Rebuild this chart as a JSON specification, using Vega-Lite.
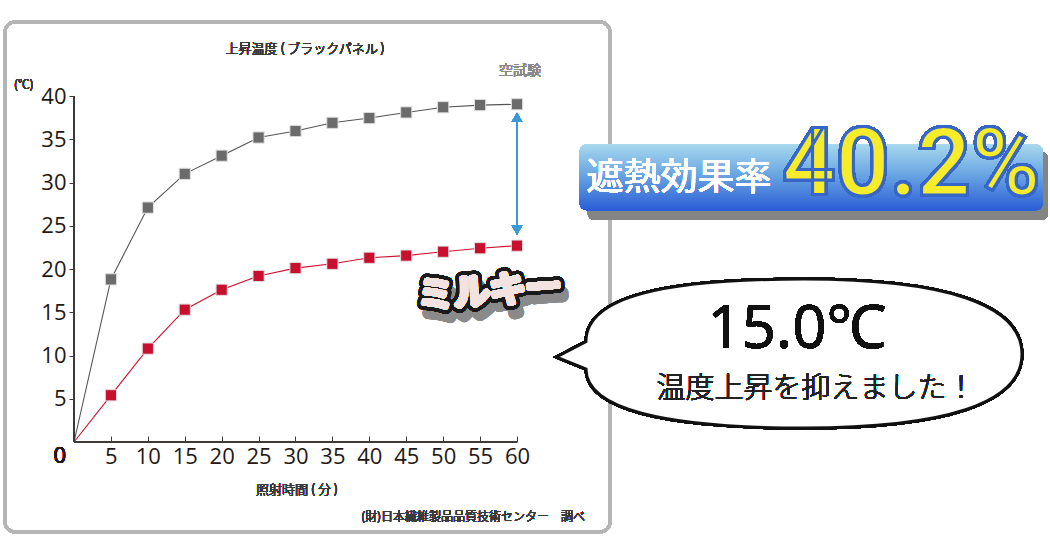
{
  "$schema": "https://vega.github.io/schema/vega-lite/v6.json",
  "description": "上昇温度 (ブラックパネル) - 空試験 vs ミルキー",
  "width": 976,
  "height": 444,
  "autosize": {"type": "none"},
  "padding": {"left": 74, "top": 96, "right": 0, "bottom": 0},
  "background": "white",
  "data": {
    "values": [
      {"t": 0, "v": 0, "s": "空試験"},
      {"t": 5, "v": 18.8, "s": "空試験"},
      {"t": 10, "v": 27.1, "s": "空試験"},
      {"t": 15, "v": 31.0, "s": "空試験"},
      {"t": 20, "v": 33.1, "s": "空試験"},
      {"t": 25, "v": 35.2, "s": "空試験"},
      {"t": 30, "v": 35.95, "s": "空試験"},
      {"t": 35, "v": 36.9, "s": "空試験"},
      {"t": 40, "v": 37.45, "s": "空試験"},
      {"t": 45, "v": 38.1, "s": "空試験"},
      {"t": 50, "v": 38.7, "s": "空試験"},
      {"t": 55, "v": 38.95, "s": "空試験"},
      {"t": 60, "v": 39.05, "s": "空試験"},
      {"t": 0, "v": 0, "s": "ミルキー"},
      {"t": 5, "v": 5.4, "s": "ミルキー"},
      {"t": 10, "v": 10.8, "s": "ミルキー"},
      {"t": 15, "v": 15.3, "s": "ミルキー"},
      {"t": 20, "v": 17.6, "s": "ミルキー"},
      {"t": 25, "v": 19.2, "s": "ミルキー"},
      {"t": 30, "v": 20.1, "s": "ミルキー"},
      {"t": 35, "v": 20.6, "s": "ミルキー"},
      {"t": 40, "v": 21.3, "s": "ミルキー"},
      {"t": 45, "v": 21.55, "s": "ミルキー"},
      {"t": 50, "v": 22.0, "s": "ミルキー"},
      {"t": 55, "v": 22.4, "s": "ミルキー"},
      {"t": 60, "v": 22.7, "s": "ミルキー"}
    ]
  },
  "resolve": {"axis": {"x": "independent", "y": "independent"}},
  "layer": [
    {
      "mark": {"type": "rect", "filled": false, "stroke": "#b5b5b5", "strokeWidth": 3, "cornerRadius": 10},
      "encoding": {
        "x": {"datum": -9.35, "type": "quantitative", "axis": null},
        "x2": {"datum": 72.6},
        "y": {"datum": 48.55, "type": "quantitative", "axis": null},
        "y2": {"datum": -10.4}
      }
    },
    {
      "mark": {"type": "rect", "fill": "#848484", "cornerRadius": 6},
      "encoding": {
        "x": {"datum": 69.6, "type": "quantitative", "axis": null},
        "x2": {"datum": 131.9},
        "y": {"datum": 33.5, "type": "quantitative", "axis": null},
        "y2": {"datum": 25.7}
      }
    },
    {
      "mark": {
        "type": "rect",
        "cornerRadius": 7,
        "fill": {
          "gradient": "linear",
          "x1": 0, "y1": 0, "x2": 0, "y2": 1,
          "stops": [
            {"offset": 0, "color": "#a8d8ee"},
            {"offset": 0.45, "color": "#6aa6e2"},
            {"offset": 1, "color": "#2b5ed6"}
          ]
        }
      },
      "encoding": {
        "x": {"datum": 68.5, "type": "quantitative", "axis": null},
        "x2": {"datum": 131.2},
        "y": {"datum": 34.4, "type": "quantitative", "axis": null},
        "y2": {"datum": 26.8}
      }
    },
    {
      "mark": {"type": "text", "align": "left", "baseline": "middle", "font": "Noto Sans CJK JP", "fontWeight": 400, "fontSize": 37, "fill": "white"},
      "encoding": {
        "x": {"datum": 69.4, "type": "quantitative", "axis": null},
        "y": {"datum": 30.4, "type": "quantitative", "axis": null},
        "text": {"value": "遮熱効果率"}
      }
    },
    {
      "mark": {"type": "text", "align": "right", "baseline": "alphabetic", "font": "Roboto", "fontWeight": "bold", "fontSize": 94, "fill": "#f6ec2c", "stroke": "#3566c8", "strokeWidth": 3},
      "encoding": {
        "x": {"datum": 130.9, "type": "quantitative", "axis": null},
        "y": {"datum": 28.55, "type": "quantitative", "axis": null},
        "text": {"value": "40.2%"}
      }
    },
    {
      "mark": {
        "type": "point",
        "filled": true,
        "fill": "white",
        "stroke": "#111111",
        "strokeWidth": 3,
        "opacity": 1,
        "size": 250000,
        "shape": "M -0.872 -0.05 C -0.872 -0.23 -0.56 -0.3 0 -0.3 C 0.56 -0.3 0.872 -0.2 0.872 0 C 0.872 0.2 0.56 0.296 0 0.296 C -0.56 0.296 -0.872 0.22 -0.872 0.06 L -0.99 0.012 Z"
      },
      "encoding": {
        "x": {"datum": 98.87, "type": "quantitative", "axis": null},
        "y": {"datum": 10.17, "type": "quantitative", "axis": null}
      }
    },
    {
      "mark": {"type": "text", "align": "center", "baseline": "alphabetic", "font": "Noto Sans, Noto Sans CJK JP", "fontSize": 60, "fill": "#111111"},
      "encoding": {
        "x": {"datum": 97.9, "type": "quantitative", "axis": null},
        "y": {"datum": 10.87, "type": "quantitative", "axis": null},
        "text": {"value": "15.0℃"}
      }
    },
    {
      "mark": {"type": "text", "align": "center", "baseline": "alphabetic", "font": "Noto Sans CJK JP", "fontWeight": 300, "fontSize": 29, "fill": "#222222"},
      "encoding": {
        "x": {"datum": 100.5, "type": "quantitative", "axis": null},
        "y": {"datum": 5.09, "type": "quantitative", "axis": null},
        "text": {"value": "温度上昇を抑えました！"}
      }
    },
    {
      "mark": {"type": "text", "align": "center", "baseline": "middle", "font": "Noto Sans CJK JP", "fontSize": 36, "angle": -4, "fill": "#8a8a8a", "stroke": "#8a8a8a", "strokeWidth": 12, "strokeJoin": "round", "opacity": 0.18, "dy": 10, "dx": 4},
      "encoding": {
        "x": {"datum": 56.3, "type": "quantitative", "axis": null},
        "y": {"datum": 17.3, "type": "quantitative", "axis": null},
        "text": {"value": "ミルキー"}
      }
    },
    {
      "mark": {"type": "text", "align": "center", "baseline": "middle", "font": "Noto Sans CJK JP", "fontSize": 36, "angle": -4, "fill": "#1a1a1a", "stroke": "#1a1a1a", "strokeWidth": 13, "strokeJoin": "round"},
      "encoding": {
        "x": {"datum": 56.3, "type": "quantitative", "axis": null},
        "y": {"datum": 17.3, "type": "quantitative", "axis": null},
        "text": {"value": "ミルキー"}
      }
    },
    {
      "mark": {"type": "text", "align": "center", "baseline": "middle", "font": "Noto Sans CJK JP", "fontSize": 36, "angle": -4, "fill": "#dff1f3", "stroke": "#f3e3e0", "strokeWidth": 5, "strokeJoin": "round"},
      "encoding": {
        "x": {"datum": 56.3, "type": "quantitative", "axis": null},
        "y": {"datum": 17.3, "type": "quantitative", "axis": null},
        "text": {"value": "ミルキー"}
      }
    },
    {
      "mark": {"type": "line", "strokeWidth": 1.1},
      "encoding": {
        "x": {
          "field": "t",
          "type": "quantitative",
          "scale": {"domain": [0, 132.19], "nice": false, "zero": false},
          "axis": {
            "values": [5, 10, 15, 20, 25, 30, 35, 40, 45, 50, 55, 60],
            "title": null,
            "grid": false,
            "domain": false,
            "offset": -98,
            "tickSize": -6,
            "tickColor": "#3e3a39",
            "labelFont": "Open Sans",
            "labelFontSize": 22,
            "labelColor": "#231815",
            "labelPadding": 10
          }
        },
        "y": {
          "field": "v",
          "type": "quantitative",
          "scale": {"domain": [-11.329, 40], "nice": false, "zero": false},
          "axis": {
            "values": [5, 10, 15, 20, 25, 30, 35, 40],
            "title": null,
            "grid": false,
            "domain": false,
            "tickSize": 5,
            "tickColor": "#3e3a39",
            "labelFont": "Open Sans",
            "labelFontSize": 22,
            "labelColor": "#231815",
            "labelPadding": 3
          }
        },
        "color": {
          "field": "s",
          "type": "nominal",
          "scale": {"domain": ["空試験", "ミルキー"], "range": ["#555555", "#d0112b"]},
          "legend": null
        }
      }
    },
    {
      "transform": [{"filter": "datum.t > 0"}],
      "mark": {"type": "point", "shape": "square", "filled": true, "size": 125, "stroke": "#dddddd", "strokeWidth": 1, "opacity": 1},
      "encoding": {
        "x": {"field": "t", "type": "quantitative", "axis": null},
        "y": {"field": "v", "type": "quantitative", "axis": null},
        "fill": {
          "field": "s",
          "type": "nominal",
          "scale": {"domain": ["空試験", "ミルキー"], "range": ["#6b6b6b", "#c8102e"]},
          "legend": null
        }
      }
    },
    {
      "mark": {"type": "rule", "color": "#3e3a39", "strokeWidth": 1.2},
      "encoding": {
        "x": {"datum": 0, "type": "quantitative", "axis": null},
        "y": {"datum": 0, "type": "quantitative", "axis": null},
        "y2": {"datum": 40}
      }
    },
    {
      "mark": {"type": "rule", "color": "#3e3a39", "strokeWidth": 1.2},
      "encoding": {
        "x": {"datum": 0, "type": "quantitative", "axis": null},
        "x2": {"datum": 60},
        "y": {"datum": 0, "type": "quantitative", "axis": null}
      }
    },
    {
      "mark": {"type": "rule", "color": "#3a9ad3", "strokeWidth": 1.5},
      "encoding": {
        "x": {"datum": 60, "type": "quantitative", "axis": null},
        "y": {"datum": 37.8, "type": "quantitative", "axis": null},
        "y2": {"datum": 24.3}
      }
    },
    {
      "mark": {"type": "point", "shape": "triangle-up", "filled": true, "color": "#3a9ad3", "size": 110, "opacity": 1},
      "encoding": {
        "x": {"datum": 60, "type": "quantitative", "axis": null},
        "y": {"datum": 37.55, "type": "quantitative", "axis": null}
      }
    },
    {
      "mark": {"type": "point", "shape": "triangle-down", "filled": true, "color": "#3a9ad3", "size": 110, "opacity": 1},
      "encoding": {
        "x": {"datum": 60, "type": "quantitative", "axis": null},
        "y": {"datum": 24.5, "type": "quantitative", "axis": null}
      }
    },
    {
      "mark": {"type": "text", "align": "right", "baseline": "middle", "font": "Open Sans", "fontSize": 22, "fill": "#231815", "dx": -8, "dy": 14},
      "encoding": {
        "x": {"datum": 0, "type": "quantitative", "axis": null},
        "y": {"datum": 0, "type": "quantitative", "axis": null},
        "text": {"value": "0"}
      }
    },
    {
      "mark": {"type": "text", "align": "center", "baseline": "middle", "font": "Noto Sans CJK JP", "fontWeight": 300, "fontSize": 13, "fill": "#3a3a3a"},
      "encoding": {
        "x": {"datum": 31.3, "type": "quantitative", "axis": null},
        "y": {"datum": 45.43, "type": "quantitative", "axis": null},
        "text": {"value": "上昇温度 ( ブラックパネル )"}
      }
    },
    {
      "mark": {"type": "text", "align": "center", "baseline": "middle", "font": "Noto Sans CJK JP", "fontWeight": 300, "fontSize": 12, "fill": "#3a3a3a"},
      "encoding": {
        "x": {"datum": -6.8, "type": "quantitative", "axis": null},
        "y": {"datum": 41.3, "type": "quantitative", "axis": null},
        "text": {"value": "(℃)"}
      }
    },
    {
      "mark": {"type": "text", "align": "center", "baseline": "middle", "font": "Noto Sans CJK JP", "fontWeight": 300, "fontSize": 14, "fill": "#8a8a8a"},
      "encoding": {
        "x": {"datum": 60.4, "type": "quantitative", "axis": null},
        "y": {"datum": 42.9, "type": "quantitative", "axis": null},
        "text": {"value": "空試験"}
      }
    },
    {
      "mark": {"type": "text", "align": "center", "baseline": "middle", "font": "Noto Sans CJK JP", "fontWeight": 300, "fontSize": 13, "fill": "#3a3a3a"},
      "encoding": {
        "x": {"datum": 30.2, "type": "quantitative", "axis": null},
        "y": {"datum": -5.55, "type": "quantitative", "axis": null},
        "text": {"value": "照射時間 ( 分 )"}
      }
    },
    {
      "mark": {"type": "text", "align": "right", "baseline": "middle", "font": "Noto Sans CJK JP", "fontWeight": 300, "fontSize": 12, "fill": "#3a3a3a"},
      "encoding": {
        "x": {"datum": 69.2, "type": "quantitative", "axis": null},
        "y": {"datum": -8.67, "type": "quantitative", "axis": null},
        "text": {"value": "(財)日本繊維製品品質技術センター　調べ"}
      }
    }
  ],
  "config": {
    "view": {"stroke": null}
  }
}
